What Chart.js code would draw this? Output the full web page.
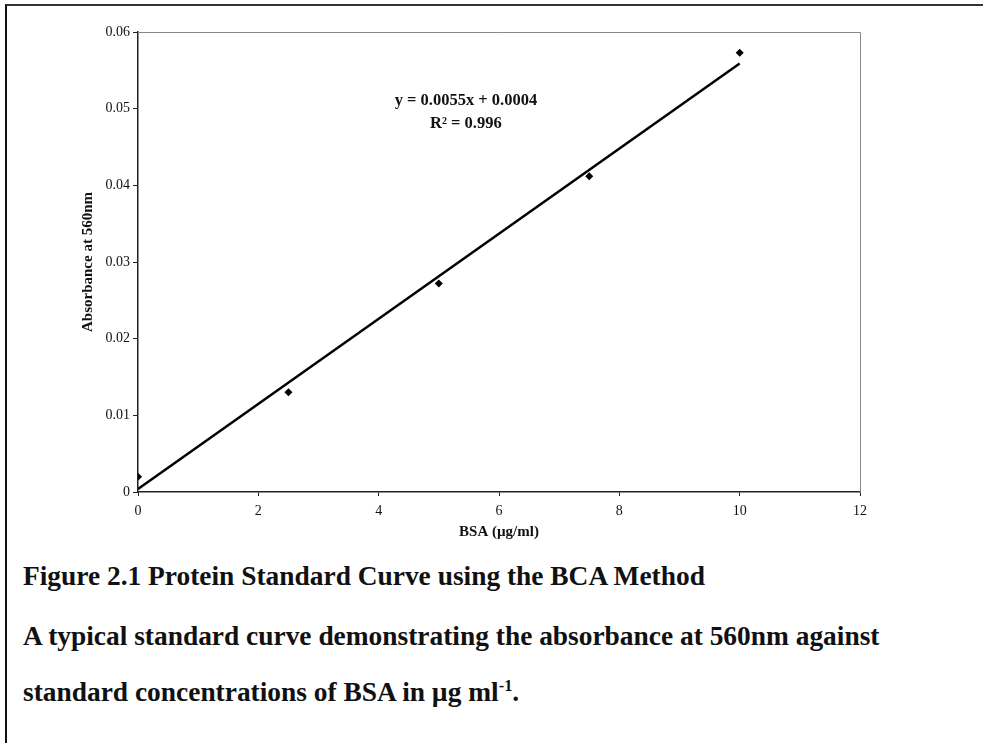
<!DOCTYPE html>
<html>
<head>
  <title>Protein Standard Curve</title>
  <script src="https://cdn.jsdelivr.net/npm/chart.js"></script>
  <style>
    body { margin: 0; background: #fff; }
    #frame {
      position: absolute; left: 5px; top: 4px; width: 978px; height: 739px;
      border-top: 2px solid #333; border-left: 2px solid #111;
    }
    #wrap { position: absolute; left: 0; top: 0; width: 983px; height: 550px; }
    .cap {
      position: absolute; left: 23px;
      font-family: "Liberation Serif", "Times New Roman", Times, serif;
      font-weight: bold; font-size: 24px; color: #111;
      white-space: nowrap; line-height: 1;
    }
    sup { font-size: 60%; vertical-align: 0.6em; line-height: 0; }
  </style>
</head>
<body>
  <div id="frame"></div>
  <div id="wrap"><canvas id="curve"></canvas></div>
  <div class="cap" id="cap1">Figure 2.1 Protein Standard Curve using the BCA Method</div>
  <div class="cap" id="cap2">A typical standard curve demonstrating the absorbance at 560nm against</div>
  <div class="cap" id="cap3">standard concentrations of BSA in µg ml<sup>-1</sup>.</div>

  <script>
    // BSA standards (ug/ml) and measured absorbance
    const bsa = [0, 2.5, 5, 7.5, 10];
    const absorbance = [0.002, 0.013, 0.0272, 0.0412, 0.0573];
    // linear trendline ends
    const trendX = [0, 10];
    const trendY = [0.0004, 0.0559];
    const equation = ['y = 0.0055x + 0.0004', 'R² = 0.996'];

    const serif = '"Liberation Serif", "Times New Roman", Times, serif';

    // size the caption so the long line fills the same width as the original
    const c2 = document.getElementById('cap2');
    const fs = 24 * 857 / c2.getBoundingClientRect().width;
    const baselines = { cap1: 586, cap2: 646, cap3: 702 };
    Object.keys(baselines).forEach(id => {
      const el = document.getElementById(id);
      el.style.fontSize = fs + 'px';
      el.style.top = (baselines[id] - 0.838 * fs) + 'px';
    });

    const eqPlugin = {
      id: 'eq',
      afterDatasetsDraw(chart) {
        const ctx = chart.ctx;
        const x = chart.scales.x.getPixelForValue(5.45);
        ctx.save();
        ctx.fillStyle = '#111';
        ctx.font = 'bold 16.5px ' + serif;
        ctx.textAlign = 'center';
        ctx.fillText(equation[0], x, 105);
        ctx.fillText(equation[1], x, 128);
        ctx.restore();
      }
    };

    const framePlugin = {
      id: 'plotFrame',
      beforeDatasetsDraw(chart) {
        const a = chart.chartArea, ctx = chart.ctx;
        ctx.save();
        ctx.strokeStyle = '#888';
        ctx.lineWidth = 1;
        ctx.beginPath();
        ctx.moveTo(a.left, a.top + 0.5);
        ctx.lineTo(a.right + 0.5, a.top + 0.5);
        ctx.lineTo(a.right + 0.5, a.bottom);
        ctx.stroke();
        ctx.restore();
      }
    };

    const tickFont = { family: serif, size: 14 };
    const titleFont = { family: serif, size: 15, weight: 'bold' };

    new Chart(document.getElementById('curve'), {
      type: 'scatter',
      data: {
        datasets: [
          {
            label: 'Absorbance',
            data: bsa.map((v, i) => ({ x: v, y: absorbance[i] })),
            pointStyle: 'rectRot',
            pointRadius: 4,
            backgroundColor: '#000',
            borderColor: '#000',
            borderWidth: 0,
            order: 0
          },
          {
            label: 'Linear',
            type: 'line',
            data: trendX.map((v, i) => ({ x: v, y: trendY[i] })),
            borderColor: '#000',
            borderWidth: 2.5,
            pointRadius: 0,
            fill: false,
            order: 1
          }
        ]
      },
      options: {
        responsive: true,
        maintainAspectRatio: false,
        animation: false,
        layout: { padding: { left: 70, right: 123, top: 32, bottom: 0 } },
        plugins: { legend: { display: false }, tooltip: { enabled: false } },
        scales: {
          x: {
            type: 'linear', min: 0, max: 12,
            afterFit: s => { s.height = 58; },
            ticks: { stepSize: 2, color: '#111', font: tickFont, padding: 7 },
            grid: { drawOnChartArea: false, tickLength: 4, color: '#222' },
            border: { color: '#222', width: 1.5 },
            title: { display: true, text: 'BSA (µg/ml)', color: '#111', font: titleFont, padding: { top: 0, bottom: 9 } }
          },
          y: {
            type: 'linear', min: 0, max: 0.06,
            afterFit: s => { s.width = 68; },
            ticks: {
              stepSize: 0.01, color: '#111', font: tickFont, padding: 3,
              callback: v => v === 0 ? '0' : v.toFixed(2)
            },
            grid: { drawOnChartArea: false, tickLength: 5, color: '#222' },
            border: { color: '#222', width: 1.5 },
            title: { display: true, text: 'Absorbance at 560nm', color: '#111', font: titleFont, padding: { top: 9, bottom: 0 } }
          }
        }
      },
      plugins: [framePlugin, eqPlugin]
    });
  </script>
</body>
</html>
